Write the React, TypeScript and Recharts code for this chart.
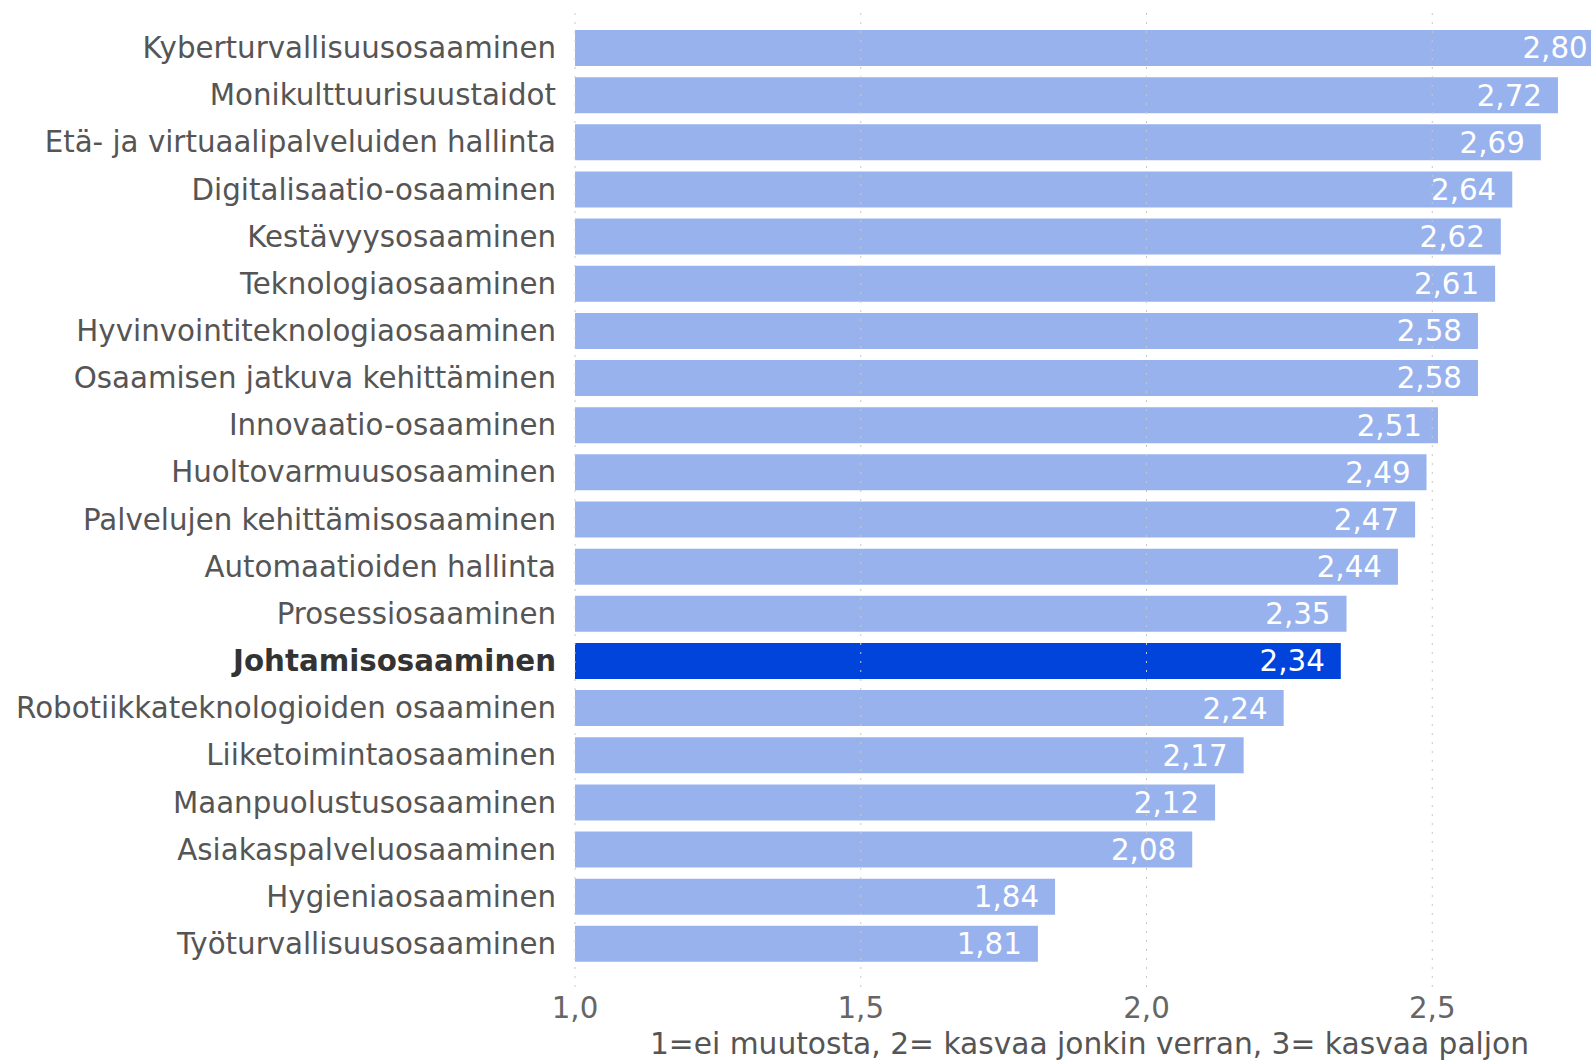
import React from 'react';
import { BarChart, Bar, XAxis, YAxis, Cell, LabelList, ReferenceLine } from 'recharts';

const categories = [
  'Kyberturvallisuusosaaminen',
  'Monikulttuurisuustaidot',
  'Etä- ja virtuaalipalveluiden hallinta',
  'Digitalisaatio-osaaminen',
  'Kestävyysosaaminen',
  'Teknologiaosaaminen',
  'Hyvinvointiteknologiaosaaminen',
  'Osaamisen jatkuva kehittäminen',
  'Innovaatio-osaaminen',
  'Huoltovarmuusosaaminen',
  'Palvelujen kehittämisosaaminen',
  'Automaatioiden hallinta',
  'Prosessiosaaminen',
  'Johtamisosaaminen',
  'Robotiikkateknologioiden osaaminen',
  'Liiketoimintaosaaminen',
  'Maanpuolustusosaaminen',
  'Asiakaspalveluosaaminen',
  'Hygieniaosaaminen',
  'Työturvallisuusosaaminen',
];

const values = [2.8, 2.72, 2.69, 2.64, 2.62, 2.61, 2.58, 2.58, 2.51, 2.49, 2.47, 2.44, 2.35, 2.34, 2.24, 2.17, 2.12, 2.08, 1.84, 1.81];

const highlighted = 'Johtamisosaaminen';
const xTicks = [1.0, 1.5, 2.0, 2.5];
const xDomain = [1, 3];
const axisTitle = '1=ei muutosta, 2= kasvaa jonkin verran, 3= kasvaa paljon';

const data = categories.map((name, i) => ({ name, value: values[i] }));

const FONT = '"DejaVu Sans", Verdana, sans-serif';
const FS = 29.3;
const LIGHT = '#98B2EE';
const DARK = '#0044DC';

const fmt = (v: number, d: number) => v.toFixed(d).replace('.', ',');

const CategoryTick = (props: any) => {
  const { x, y, payload } = props;
  const bold = payload.value === highlighted;
  return (
    <text
      x={x}
      y={y}
      dy="0.36em"
      textAnchor="end"
      fontFamily={FONT}
      fontSize={FS}
      fontWeight={bold ? 'bold' : 'normal'}
      fill={bold ? '#333333' : '#555555'}
    >
      {payload.value}
    </text>
  );
};

export default function App() {
  return (
    <div style={{ position: 'absolute', left: 0, top: 0, width: 1591, height: 1061, overflow: 'hidden', background: '#fff' }}>
      <BarChart
        width={1718}
        height={1061}
        data={data}
        layout="vertical"
        margin={{ top: 10, right: 0, bottom: 0, left: 0 }}
      >
        <XAxis
          type="number"
          domain={xDomain}
          ticks={xTicks}
          axisLine={false}
          tickLine={false}
          tickMargin={4}
          tick={{ fontFamily: FONT, fontSize: FS, fill: '#666666' }}
          tickFormatter={(v: number) => fmt(v, 1)}
          height={74}
          label={{ value: axisTitle, position: 'insideBottom', dx: -57, offset: 7, style: { fontFamily: FONT, fontSize: 29.7, fill: '#555555' } }}
        />
        <YAxis
          type="category"
          dataKey="name"
          width={575}
          axisLine={false}
          tickLine={false}
          tickMargin={13}
          padding={{ top: 14, bottom: 20 }}
          interval={0}
          tick={<CategoryTick />}
        />
        <Bar dataKey="value" barSize={36} isAnimationActive={false}>
          {data.map((d) => (
            <Cell key={d.name} fill={d.name === highlighted ? DARK : LIGHT} />
          ))}
          <LabelList
            dataKey="value"
            position="insideRight"
            offset={16}
            formatter={(v: number) => fmt(v, 2)}
            style={{ fontFamily: FONT, fontSize: FS, fill: '#ffffff' }}
          />
        </Bar>
        {xTicks.map((t) => (
          <ReferenceLine key={t} x={t} stroke="#c8c8c8" strokeDasharray="2 7" strokeWidth={1} />
        ))}
      </BarChart>
    </div>
  );
}
